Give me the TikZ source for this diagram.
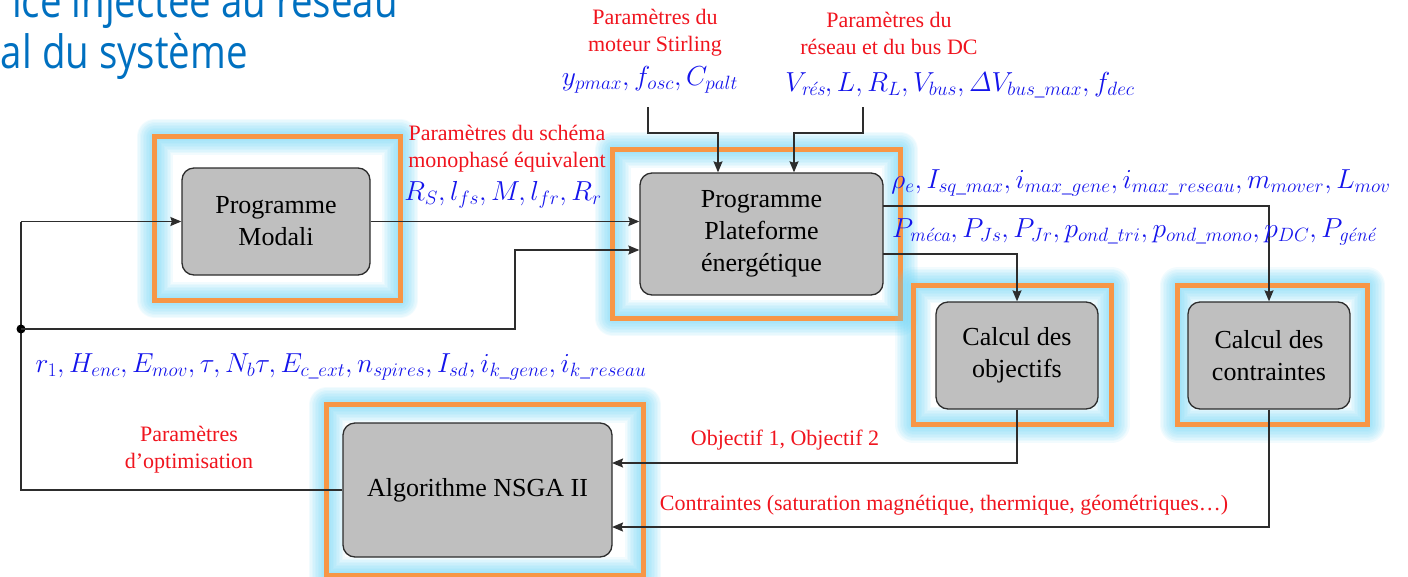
\RequirePackage{fix-cm}
\documentclass[tikz,border=0pt]{standalone}
\usepackage{fontspec}
\setmainfont{Liberation Serif}
\newfontfamily\titlefont{Open Sans}
\usepackage{amsmath}
\usetikzlibrary{arrows.meta}
\definecolor{orangec}{RGB}{247,150,70}
\definecolor{glowc}{RGB}{110,212,245}
\definecolor{boxgray}{RGB}{191,191,191}
\definecolor{linec}{RGB}{45,45,45}
\definecolor{titleblue}{RGB}{0,112,192}
\definecolor{mblue}{RGB}{20,20,235}
\definecolor{lred}{RGB}{240,20,30}
\newcommand{\mt}[1]{\text{\usefont{TU}{lmr}{m}{it}#1}}
\tikzset{
  gbox/.style={draw=linec, line width=1.3pt, fill=boxgray, rounded corners=12pt, align=center,
    font=\fontsize{26}{32}\selectfont, inner sep=0pt},
  frame/.style={inner sep=0pt},
  conn/.style={draw=linec, line width=1.4pt},
  arr/.style={conn, -{Stealth[length=11pt,width=9pt,inset=1.5pt]}},
  redlab/.style={text=lred, align=center, font=\fontsize{22}{27}\selectfont, inner sep=0pt},
  mathlab/.style={text=mblue, font=\fontsize{27.5}{31}\selectfont, inner sep=0pt},
  titlelab/.style={anchor=base east, text=titleblue, font=\titlefont\fontsize{46}{50}\selectfont, inner sep=0pt}
}
\begin{document}
\begin{tikzpicture}[x=1pt,y=-1pt]
\useasboundingbox (0,0) rectangle (1408,576);
\begin{scope}
\clip (0,0) rectangle (1408,576);
\node[titlelab] (t1) at (398,17) {\scalebox{0.836}[1]{ice injectée au réseau}};
\node[titlelab] (t2) at (248,68) {\scalebox{0.836}[1]{al du système}};
\end{scope}

% frame geometry
\node[frame, minimum width=245pt, minimum height=163pt] (fmod) at (277.5,218.5) {};
\node[frame, minimum width=287pt, minimum height=168pt] (fpf) at (756.5,234) {};
\node[frame, minimum width=198pt, minimum height=139pt] (fob) at (1012.5,355) {};
\node[frame, minimum width=189pt, minimum height=139pt] (fco) at (1272.5,355) {};
\node[frame, minimum width=316pt, minimum height=170pt] (fns) at (485,490) {};

% glow and orange frames
\foreach \f in {fmod,fpf,fob,fco,fns}{
  \foreach \w in {36,33,...,5}{
    \draw[glowc, line width=\w pt, line join=round, opacity=0.085] (\f.north west) rectangle (\f.south east);
  }
  \draw[orangec, line width=5pt] (\f.north west) rectangle (\f.south east);
}

% grey boxes
\node[gbox, minimum width=188pt, minimum height=107pt] (mod) at (276,221.5) {Programme\\Modali};
\node[gbox, minimum width=243pt, minimum height=122pt] (pf) at (761.5,234) {Programme\\Plateforme\\énergétique};
\node[gbox, minimum width=162pt, minimum height=107pt] (ob) at (1017,355.5) {Calcul des\\objectifs};
\node[gbox, minimum width=162pt, minimum height=107pt] (co) at (1269,355.5) {Calcul des\\contraintes};
\node[gbox, minimum width=269pt, minimum height=134pt] (ns) at (477.5,490) {Algorithme NSGA II};

% coordinates
\coordinate (lt) at (21,221.5);
\coordinate (dot) at (21,329);
\coordinate (lb) at (21,490);
\coordinate (j1) at (515,329);
\coordinate (j2) at (515,250);
\coordinate (s1) at (648,107);
\coordinate (s3) at (718,133);
\coordinate (r1) at (863,107);
\coordinate (r3) at (794,133);
\coordinate (o1) at (883,206);
\coordinate (o2) at (883,254);
\coordinate (n1) at (612,463);
\coordinate (n2) at (612,527);

% connectors
\draw[conn] (ns.west) -- (lb) -- (lt);
\draw[arr] (lt) -- (mod.west);
\fill[black] (dot) circle (4.5pt);
\draw[arr] (dot) -- (j1) -- (j2) -- (pf.west |- j2);
\draw[arr] (mod.east) -- (pf.west |- mod.east);
\draw[arr] (s1) |- (s3) -- (s3 |- pf.north);
\draw[arr] (r1) |- (r3) -- (r3 |- pf.north);
\draw[arr] (o1) -| (co.north);
\draw[arr] (o2) -| (ob.north);
\draw[arr] (ob.south) |- (n1);
\draw[arr] (co.south) |- (n2);

% red labels
\node[redlab] (lsti) at (655,33) {Paramètres du\\moteur Stirling};
\node[redlab] (lres) at (889,33) {Paramètres du\\réseau et du bus DC};
\node[redlab] (lmon) at (507,149) {Paramètres du schéma\\monophasé équivalent};
\node[redlab] (lopt) at (189,450) {Paramètres\\d’optimisation};
\node[redlab] (lobj) at (785,440) {Objectif 1, Objectif 2};
\node[redlab] (lctr) at (944,505) {Contraintes (saturation magnétique, thermique, géométriques…)};

% blue parameter lists
\node[mathlab] (mst) at (650,80) {$y_{pmax}, f_{osc}, C_{palt}$};
\node[mathlab] (mres) at (960,85) {$V_{\mt{rés}}, L, R_L, V_{bus}, \varDelta V_{bus\_max}, f_{dec}$};
\node[mathlab] (mrs) at (503,195) {$R_S, l_{fs}, M, l_{fr}, R_r$};
\node[mathlab] (mtop) at (1141,183) {$\rho_e, I_{sq\_max}, i_{max\_gene}, i_{max\_reseau}, m_{mover}, L_{mov}$};
\node[mathlab] (mbot) at (1134,232) {$P_{\mt{méca}}, P_{Js}, P_{Jr}, p_{ond\_tri}, p_{ond\_mono}, p_{DC}, P_{\mt{géné}}$};
\node[mathlab] (mr1) at (341,367) {$r_1, H_{enc}, E_{mov}, \tau, N_b\tau, E_{c\_ext}, n_{spires}, I_{sd}, i_{k\_gene}, i_{k\_reseau}$};
\end{tikzpicture}
\end{document}
